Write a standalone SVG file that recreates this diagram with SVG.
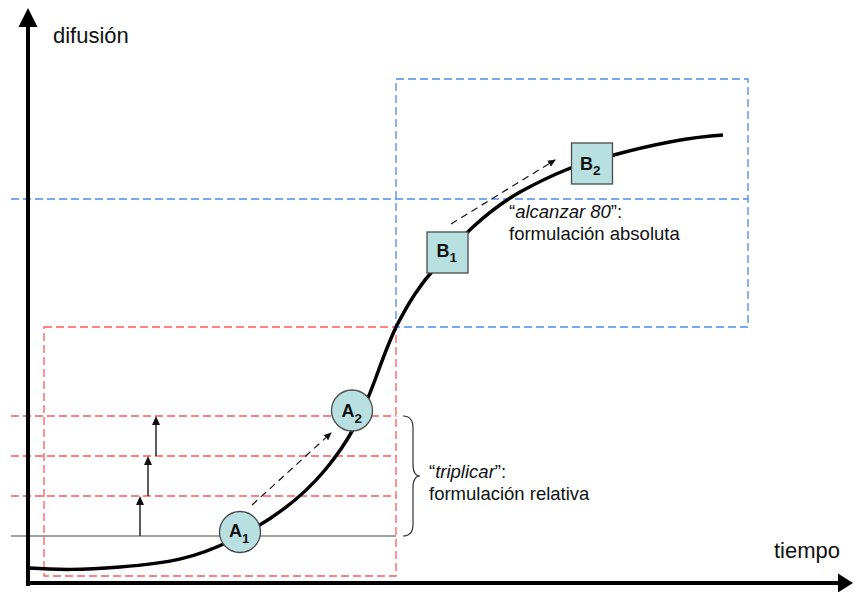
<svg xmlns="http://www.w3.org/2000/svg" width="853" height="592" viewBox="0 0 853 592">
<style>
text{font-family:"Liberation Sans",Arial,sans-serif;fill:#111}
.red{stroke:#ff5a5a;stroke-width:1.3;stroke-dasharray:8,4;fill:none}
.blue{stroke:#4f8be8;stroke-width:1.3;stroke-dasharray:8,4;fill:none}
.node{fill:#b9e0e1;stroke:#4a4a4a;stroke-width:1.3}
.lbl{font-weight:bold;font-size:18px}
.sub{font-weight:bold;font-size:13.5px}
.dash{stroke:#111;stroke-width:1.2;stroke-dasharray:7,5;fill:none}
.up{stroke:#333;stroke-width:1.6;fill:none}
.note{font-size:18.5px}
</style>
<defs>
<marker id="ah" markerWidth="8" markerHeight="8" refX="7" refY="4" orient="auto" markerUnits="userSpaceOnUse">
<path d="M0,0.5 L8,4 L0,7.5 Z" fill="#111"/>
</marker>
</defs>
<g id="regions">
<rect class="blue" x="396" y="79" width="352" height="248"/>
<line class="blue" x1="11" y1="199" x2="748" y2="199"/>
<rect class="red" x="44" y="327" width="352" height="249"/>
<line class="red" x1="11" y1="416" x2="396" y2="416"/>
<line class="red" x1="11" y1="456" x2="396" y2="456"/>
<line class="red" x1="11" y1="496" x2="396" y2="496"/>
<line x1="11" y1="536" x2="396" y2="536" stroke="#444" stroke-width="1.2"/>
</g>
<g id="axes">
<line x1="28" y1="24" x2="28" y2="586" stroke="#000" stroke-width="4"/>
<path d="M28,8 L18.5,27 L37.5,27 Z" fill="#000"/>
<line x1="26" y1="583" x2="840" y2="583" stroke="#000" stroke-width="4"/>
<path d="M853,583 L838,573.5 L838,592.5 Z" fill="#000"/>
<text x="53" y="43" style="font-size:22px">difusión</text>
<text x="774" y="558" style="font-size:22px">tiempo</text>
</g>
<g id="curve">
<path d="M29,568 C60,570 80,570 120,567 C170,563 195,558 230,541 C270,522 300,500 325,470 C350,440 362,415 375,380 C385,352 390,340 396,327 C410,300 420,285 435,268 C460,238 485,212 520,192 C555,173 580,163 610,156 C650,145 690,137 723,135" stroke="#000" stroke-width="3.5" fill="none"/>
</g>
<g id="connectors">
<line class="up" x1="140" y1="536" x2="140" y2="504"/>
<path d="M140,496 L136,505 L144,505 Z" fill="#111"/>
<line class="up" x1="148" y1="496" x2="148" y2="464"/>
<path d="M148,456 L144,465 L152,465 Z" fill="#111"/>
<line class="up" x1="156" y1="456" x2="156" y2="424"/>
<path d="M156,416 L152,425 L160,425 Z" fill="#111"/>
<line class="dash" x1="252" y1="505" x2="331" y2="433" marker-end="url(#ah)"/>
<line class="dash" x1="451" y1="224" x2="555" y2="160" marker-end="url(#ah)"/>
<path d="M403,416 Q413,416 413,428 L413,464 Q413,476 420,476 Q413,476 413,488 L413,524 Q413,536 403,536" stroke="#333" stroke-width="1.2" fill="none"/>
</g>
<g id="A1">
<circle class="node" cx="240" cy="532" r="20.5"/>
<text x="229" y="537" class="lbl">A<tspan class="sub" dy="6">1</tspan></text>
</g>
<g id="A2">
<circle class="node" cx="352" cy="410.5" r="20.5"/>
<text x="341.5" y="417" class="lbl">A<tspan class="sub" dy="6">2</tspan></text>
</g>
<g id="B1">
<rect class="node" x="427" y="232" width="41" height="41"/>
<text x="436.5" y="257" class="lbl">B<tspan class="sub" dy="5">1</tspan></text>
</g>
<g id="B2">
<rect class="node" x="571.5" y="143" width="41" height="41"/>
<text x="580" y="170" class="lbl">B<tspan class="sub" dy="5">2</tspan></text>
</g>
<g id="notes">
<text x="429" y="478" class="note">“<tspan font-style="italic">triplicar</tspan>”:</text>
<text x="429" y="500" class="note">formulación relativa</text>
<text x="509" y="218" class="note">“<tspan font-style="italic">alcanzar 80</tspan>”:</text>
<text x="509" y="240" class="note">formulación absoluta</text>
</g>
</svg>
